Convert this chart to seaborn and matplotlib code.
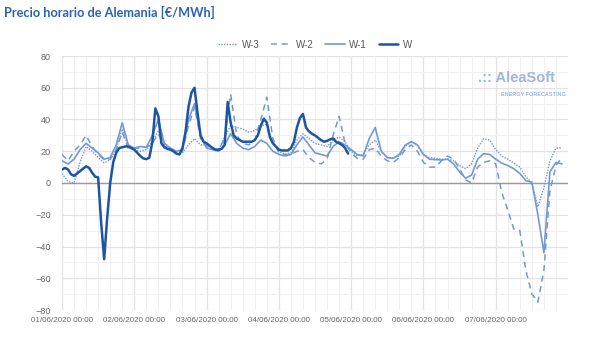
import numpy as np
import pandas as pd
import matplotlib
matplotlib.use("Agg")
import matplotlib.pyplot as plt
from matplotlib.ticker import MultipleLocator
import seaborn as sns

# ---- data ----
hours_w = np.arange(96)          # hourly, current week (W) available through 04/06 23:00
hours_prev = np.arange(0, 168, 2)  # previous weeks, read every 2 hours

w = [8.5, 9.5, 8.5, 5.5, 4.5, 6, 7.5, 9, 10.5, 9.5, 6.5, 4, 3.5, -25, -48, -22, 0, 13, 19, 22, 22.5, 23, 23, 22,
     21, 19, 17, 15.5, 15, 16, 26, 47, 42, 25, 22.5, 21.5, 21, 20, 18.5, 18, 22, 32, 48, 57, 60, 44, 30, 26,
     25, 23.5, 22, 21, 21, 21.5, 24, 51, 38, 30, 28, 27, 26, 26, 26, 26, 27, 30, 36, 40.5, 38, 29, 25, 23,
     21, 20.5, 20.5, 20.5, 22, 26, 35, 41, 43.5, 35, 32.5, 31, 30, 28.5, 27, 26, 26.5, 27.5, 28, 26, 25, 24, 22, 18.5]

w_1 = [14, 12, 15, 21, 25, 22, 19, 15, 16, 24, 38, 24,
       22, 23, 22.5, 30, 40, 25, 22, 20, 21, 40, 50, 30,
       22, 21, 20, 24, 31, 25, 22, 21, 23, 27, 25, 20,
       18, 17, 18, 24, 29, 24, 19, 18, 17, 23, 26, 24,
       21, 18, 17, 28, 35, 20, 16, 15.5, 18, 24, 26, 24,
       18, 15, 14.7, 14.5, 15, 12, 7, 3, 5, 15, 18.5, 18,
       15, 12.5, 11, 9, 6, 1.5, 0.5, -20, -44, 7, 13, 12]

w_2 = [18, 14, 20, 24, 30, 23, 18, 14.7, 15, 21, 32, 22,
       22, 22, 22.5, 25, 31, 23, 21, 19, 20, 36, 48, 28,
       23, 21, 21, 28, 56, 30, 25, 24, 27, 40, 54, 28,
       19, 18, 18, 20, 21, 16, 13, 12, 15, 30, 42, 25,
       19, 15.5, 15, 21, 22, 17, 14, 13, 16, 21, 24, 20,
       13, 10, 10, 14, 17, 15, 9, 2, 0, 10, 13, 14,
       12, -6, -17, -29, -30, -55, -70, -75, -55, -5, 11, 16]

w_3 = [6, 1, 0, 13, 23, 20, 16, 12.6, 14.7, 21, 34, 23,
       21, 20, 21, 26, 33, 24, 22, 18, 19, 24, 28, 24,
       24, 22, 21, 29, 36, 35, 34, 32, 33, 36, 37, 25,
       20, 18, 19, 27, 31, 28, 25, 24, 23, 27, 29, 26,
       20, 17, 18, 24, 27, 20, 16, 16, 17, 23, 26, 24,
       18, 16, 15.5, 15, 15, 14, 11, 9, 12, 22, 28, 27,
       21, 17, 15, 12.5, 10, 4, 0, -15, -3, 14, 22, 22]

series_names = ["W-3", "W-2", "W-1", "W"]
tick_labels = ["01/06/2020 00:00", "02/06/2020 00:00", "03/06/2020 00:00", "04/06/2020 00:00",
               "05/06/2020 00:00", "06/06/2020 00:00", "07/06/2020 00:00"]
y_ticks = [-80, -60, -40, -20, 0, 20, 40, 60, 80]

# ---- figure ----
sns.set_style("white")
plt.rcParams['font.family'] = ['Liberation Sans', 'DejaVu Sans']

fig = plt.figure(figsize=(6.0, 3.46), dpi=100)
ax = fig.add_axes([62/600, 1 - 310/346, (568 - 62)/600, (310 - 56)/346])

light = "#7499d2"
dark = "#1c55a3"

sns.lineplot(x=hours_prev, y=w_3, ax=ax, color=light, linewidth=1.0, linestyle=(0, (1, 1)), label=series_names[0])
sns.lineplot(x=hours_prev, y=w_2, ax=ax, color=light, linewidth=1.1, linestyle=(0, (4, 3)), label=series_names[1])
sns.lineplot(x=hours_prev, y=w_1, ax=ax, color=light, linewidth=1.2, label=series_names[2])
sns.lineplot(x=hours_w, y=w, ax=ax, color=dark, linewidth=1.8, label=series_names[3])

ax.set_xlim(0, 168)
ax.set_ylim(-80, 80)
ax.set_xticks(np.arange(0, 168, 24))
ax.set_xticklabels(tick_labels)
ax.set_yticks(y_ticks)
ax.xaxis.set_minor_locator(MultipleLocator(4))
ax.yaxis.set_minor_locator(MultipleLocator(10))
ax.grid(which="major", color="#e3e3e3", linewidth=0.9)
ax.grid(which="minor", color="#f0f0f0", linewidth=0.7)
ax.set_axisbelow(True)
ax.axhline(0, color="#9a9a9a", linewidth=1.0, zorder=1.5)
for s in ax.spines.values():
    s.set_visible(False)
ax.tick_params(axis="both", which="both", length=0, labelcolor="#666666")
ax.tick_params(axis="y", pad=8, labelsize=6.6)
ax.tick_params(axis="x", pad=5, labelsize=5.8)
ax.set_xlabel("")
ax.set_ylabel("")

leg = ax.legend(loc="lower center", bbox_to_anchor=(0.5, 0.99), ncol=4, frameon=False,
                fontsize=7.0, handlelength=2.0, columnspacing=1.2, handletextpad=0.5)
for t in leg.get_texts():
    t.set_color("#555555")

fig.text(0.007, 0.965, "Precio horario de Alemania [€/MWh]", fontsize=9.2, fontweight="bold",
         color="#2a63b5", ha="left", va="center", family=["Lato", "DejaVu Sans"])

# watermark logo text
ax.text(0.975, 0.915, ".:: AleaSoft", transform=ax.transAxes, ha="right", va="center",
        fontsize=10.5, fontweight="bold", color="#9cb7e2")
ax.text(0.995, 0.85, "ENERGY FORECASTING", transform=ax.transAxes, ha="right", va="center",
        fontsize=4, fontweight="bold", color="#9cb7e2")

fig.savefig("out.png", dpi=100)
